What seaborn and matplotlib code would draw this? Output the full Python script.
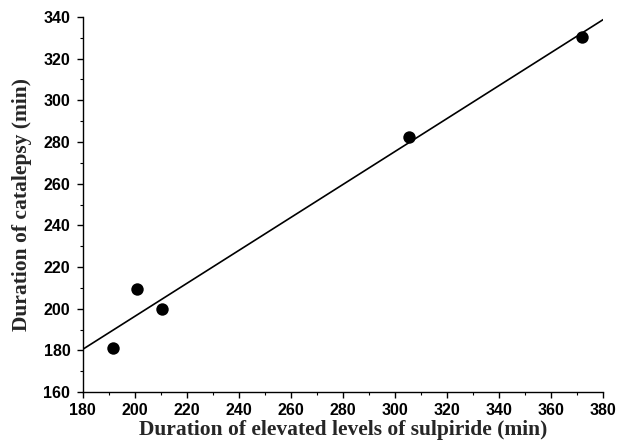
import numpy as np
import pandas as pd
import matplotlib
matplotlib.use("Agg")
import matplotlib.pyplot as plt
from matplotlib.ticker import MultipleLocator
import seaborn as sns

# 数据
sulpiride_min = [191.5, 200.9, 210.4, 305.4, 371.8]
catalepsy_min = [181.1, 209.4, 199.8, 282.6, 330.3]

df = pd.DataFrame({"x": sulpiride_min, "y": catalepsy_min})

sns.set_style("ticks")
plt.rcParams["font.family"] = ["Liberation Sans", "DejaVu Sans"]

fig = plt.figure(figsize=(6.18, 4.47), dpi=100)
ax = fig.add_axes([0.134, 0.123, 0.842, 0.839])
ax.set_xlim(180, 380)
ax.set_ylim(160, 340)

sns.regplot(data=df, x="x", y="y", ax=ax, ci=None, truncate=False,
            scatter_kws=dict(s=80, color="black", edgecolor="black", linewidths=0,
                             alpha=1, zorder=3),
            line_kws=dict(color="black", linewidth=1.2))
ax.set_xlim(180, 380)
ax.set_ylim(160, 340)

ax.xaxis.set_major_locator(MultipleLocator(20))
ax.xaxis.set_minor_locator(MultipleLocator(10))
ax.yaxis.set_major_locator(MultipleLocator(20))
ax.yaxis.set_minor_locator(MultipleLocator(10))
ax.tick_params(which="major", direction="out", length=4, width=1, colors="black")
ax.tick_params(axis="x", pad=4)
ax.tick_params(axis="y", pad=5)
ax.tick_params(which="minor", direction="out", length=2.5, width=0.8, colors="black")
for lb in ax.get_xticklabels() + ax.get_yticklabels():
    lb.set_fontweight("bold")
    lb.set_fontsize(11.5)

sns.despine(ax=ax)
for sp in ax.spines.values():
    sp.set_color("black")
    sp.set_linewidth(1)

ax.set_xlabel("Duration of elevated levels of sulpiride (min)",
              fontfamily="Liberation Serif", fontweight="bold", fontsize=15.5, labelpad=1)
ax.set_ylabel("Duration of catalepsy (min)",
              fontfamily="Liberation Serif", fontweight="bold", fontsize=15.5, labelpad=8)

fig.savefig("out.png", dpi=100, facecolor="white")
